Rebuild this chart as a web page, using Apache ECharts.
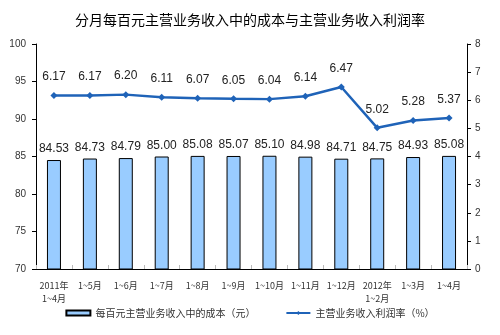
<!DOCTYPE html>
<html><head><meta charset="utf-8">
<script src="https://cdn.jsdelivr.net/npm/echarts@6/dist/echarts.min.js"></script>
<style>html,body{margin:0;padding:0;background:#fff}#c{width:500px;height:335px}</style>
</head><body><div id="c"></div>
<script>
var categories = ['2011年\n1~4月','1~5月','1~6月','1~7月','1~8月','1~9月','1~10月','1~11月','1~12月','2012年\n1~2月','1~3月','1~4月'];
var costValues = [84.53,84.73,84.79,85.00,85.08,85.07,85.10,84.98,84.71,84.75,84.93,85.08];
var profitRate = [6.17,6.17,6.20,6.11,6.07,6.05,6.04,6.14,6.47,5.02,5.28,5.37];
var leftTicks = [70,100,5];
var rightTicks = [0,8,1];
var chart = echarts.init(document.getElementById('c'), null, {renderer:'canvas'});
var ff = '"Noto Sans CJK SC", "DejaVu Sans", sans-serif';
var nf = '"Liberation Sans", Arial, sans-serif';
chart.setOption({
  animation:false,
  title:{text:'分月每百元主营业务收入中的成本与主营业务收入利润率',left:'center',top:8,
    textStyle:{fontSize:14,fontWeight:'normal',color:'#000',fontFamily:ff}},
  grid:{left:36,right:33,top:44,bottom:66},
  legend:{bottom:12,left:'center',itemGap:30,itemWidth:24,itemHeight:5,
    textStyle:{fontSize:10,color:'#333',fontFamily:ff},
    data:[{name:'每百元主营业务收入中的成本（元）',icon:'rect'},{name:'主营业务收入利润率（%）'}]},
  xAxis:{type:'category',data:categories,
    axisLine:{lineStyle:{color:'#000',width:1}},
    axisTick:{show:true,inside:true,length:4,lineStyle:{color:'#bbb'}},
    axisLabel:{fontSize:9,color:'#333',interval:0,margin:10,lineHeight:13,fontFamily:ff}},
  yAxis:[
    {type:'value',min:leftTicks[0],max:leftTicks[1],interval:leftTicks[2],
      axisLine:{show:true,lineStyle:{color:'#000'}},axisTick:{show:true,length:4,lineStyle:{color:'#000'}},
      splitLine:{show:false},axisLabel:{fontSize:10,color:'#333',margin:10,fontFamily:nf}},
    {type:'value',min:rightTicks[0],max:rightTicks[1],interval:rightTicks[2],
      axisLine:{show:true,lineStyle:{color:'#000'}},axisTick:{show:true,length:4,lineStyle:{color:'#000'}},
      splitLine:{show:false},axisLabel:{fontSize:10,color:'#333',margin:8,fontFamily:nf}}
  ],
  series:[
    {name:'每百元主营业务收入中的成本（元）',type:'bar',data:costValues,barWidth:14,yAxisIndex:0,
      itemStyle:{color:'#99CCFF',borderColor:'#000',borderWidth:1},
      label:{show:true,position:'top',distance:5,fontSize:12,color:'#222',fontFamily:nf,
        formatter:function(p){return p.value.toFixed(2);}}},
    {name:'主营业务收入利润率（%）',type:'line',data:profitRate,yAxisIndex:1,
      symbol:'diamond',symbolSize:7,
      lineStyle:{color:'#1F63B8',width:2.5},itemStyle:{color:'#1F63B8'},
      label:{show:true,position:'top',distance:9,fontSize:12,color:'#222',fontFamily:nf,
        formatter:function(p){return p.value.toFixed(2);}}}
  ]
});
</script></body></html>
